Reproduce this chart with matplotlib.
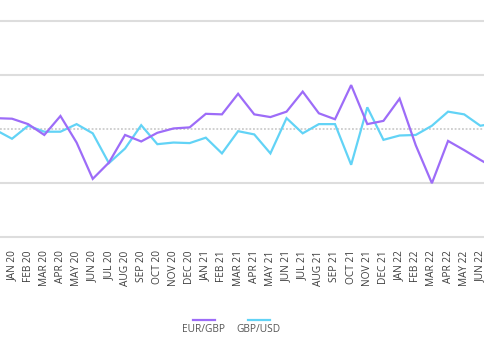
import matplotlib
matplotlib.use("Agg")
import matplotlib.pyplot as plt
from matplotlib.lines import Line2D
import numpy as np

plt.rcParams['font.family'] = ['Open Sans', 'DejaVu Sans']

months = ["DEC 19",
          "JAN 20", "FEB 20", "MAR 20", "APR 20", "MAY 20", "JUN 20",
          "JUL 20", "AUG 20", "SEP 20", "OCT 20", "NOV 20", "DEC 20",
          "JAN 21", "FEB 21", "MAR 21", "APR 21", "MAY 21", "JUN 21",
          "JUL 21", "AUG 21", "SEP 21", "OCT 21", "NOV 21", "DEC 21",
          "JAN 22", "FEB 22", "MAR 22", "APR 22", "MAY 22", "JUN 22",
          "JUL 22"]

eur_gbp = [0.20,
           0.19, 0.09, -0.11, 0.24, -0.25, -0.92,
           -0.62, -0.11, -0.23, -0.07, 0.01, 0.03,
           0.28, 0.27, 0.65, 0.27, 0.22, 0.32,
           0.69, 0.29, 0.18, 0.81, 0.09, 0.15,
           0.56, -0.30, -1.00, -0.22, -0.39, -0.57,
           -0.74]

gbp_usd = [-0.02,
           -0.18, 0.06, -0.05, -0.05, 0.09, -0.08,
           -0.63, -0.36, 0.07, -0.28, -0.25, -0.26,
           -0.16, -0.45, -0.04, -0.10, -0.45, 0.20,
           -0.08, 0.09, 0.09, -0.66, 0.40, -0.20,
           -0.12, -0.11, 0.06, 0.32, 0.27, 0.06,
           0.11]

grid_levels = [-2, -1, 1, 2]

PURPLE = "#9d6cf8"
CYAN = "#62d3f6"

W, H = 485, 360
fig = plt.figure(figsize=(W / 100, H / 100), dpi=100)
top_px, bot_px = 15, 242
ax = fig.add_axes([0, 1 - bot_px / H, 1, (bot_px - top_px) / H])

x = np.arange(len(months)) - 1
step = 16.15
ax.set_xlim(-12 / step, (W - 12) / step)
ax.set_ylim(-(bot_px - 129) / 54.2, (129 - top_px) / 54.2)

for g in grid_levels:
    ax.axhline(g, color="#dddddd", lw=1.5, zorder=1)
ax.axhline(0, color="#c4c4c4", lw=1.1, ls=(0, (1.2, 1.2)), zorder=1)

ax.plot(x, eur_gbp, color=PURPLE, lw=1.6, zorder=3, solid_joinstyle="miter")
ax.plot(x, gbp_usd, color=CYAN, lw=1.6, zorder=2, solid_joinstyle="miter")

# only the months inside the visible window get labels
ax.set_xticks(x[1:-1])
ax.set_xticklabels(months[1:-1], rotation=90, fontsize=7.3, color="#3d3d3d")
ax.tick_params(axis="x", length=0, pad=6)
ax.set_yticks([])
for s in ax.spines.values():
    s.set_visible(False)

# legend: line sample above label
leg = [("EUR/GBP", PURPLE, 204), ("GBP/USD", CYAN, 258.7)]
for name, col, cx in leg:
    fig.add_artist(Line2D([(cx - 11) / W, (cx + 11) / W], [1 - 320 / H] * 2,
                          color=col, lw=1.6, transform=fig.transFigure))
    fig.text(cx / W, 1 - 330 / H, name, ha="center", va="center",
             fontsize=7.3, color="#555555")

fig.savefig("out.png", dpi=100)
